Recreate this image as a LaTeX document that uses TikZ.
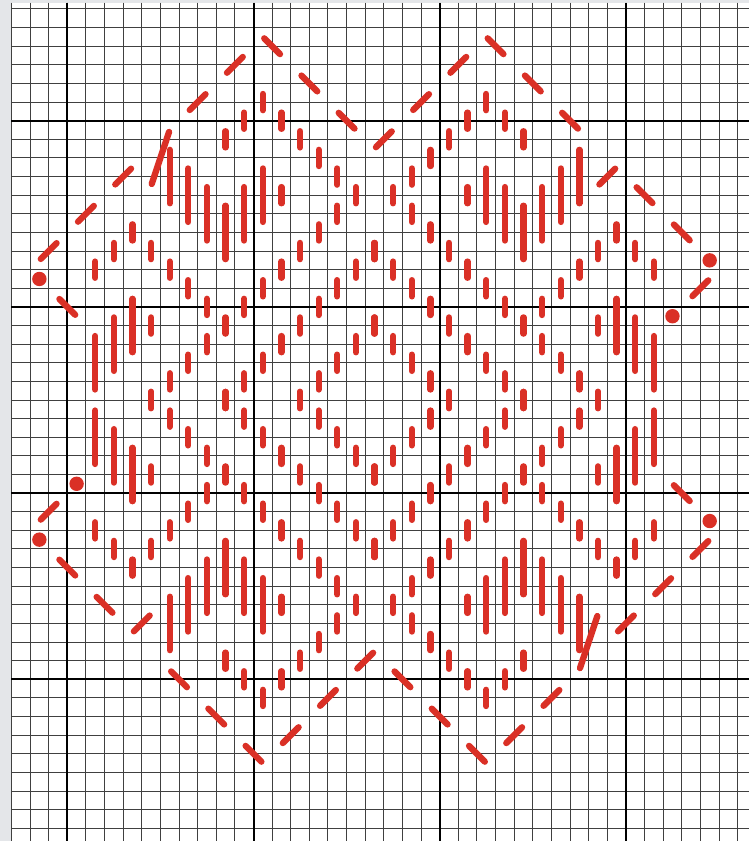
\documentclass[tikz,border=0pt]{standalone}
\definecolor{stitchred}{RGB}{218,48,38}
\definecolor{stripgray}{RGB}{228,230,233}
\newcommand{\cx}[1]{{67.3+18.62*((#1)+0.5)}}
\newcommand{\cy}[1]{{120.7+18.62*((#1)+0.5)}}
\tikzset{
  gridthin/.style={draw=black!75, line width=1pt},
  gridthick/.style={draw=black, line width=2pt},
  vstitch/.style={draw=stitchred, line width=6.3pt, line cap=round, shorten <=1.2pt, shorten >=1.2pt},
  dstitch/.style={draw=stitchred, line width=6.3pt, line cap=round, shorten <=2pt, shorten >=2pt},
  knot/.style={fill=stitchred}
}
\begin{document}
\begin{tikzpicture}[x=1pt,y=-1pt]
\useasboundingbox (0,0) rectangle (749,841);
\fill[white] (0,0) rectangle (749,841);
\fill[stripgray] (0,0) rectangle (11.4,841);
\fill[stripgray] (0,0) rectangle (749,2.6);
% thin grid
\foreach \i in {-3,...,36} {
  \draw[gridthin] ({67.3+18.62*\i},2.6) -- ({67.3+18.62*\i},841);
}
\foreach \j in {-6,...,38} {
  \draw[gridthin] (11.4,{120.7+18.62*\j}) -- (749,{120.7+18.62*\j});
}
% thick grid
\foreach \i in {0,10,20,30} {
  \draw[gridthick] ({67.3+18.62*\i},2.6) -- ({67.3+18.62*\i},841);
}
\foreach \j in {0,10,20,30} {
  \draw[gridthick] (11.4,{120.7+18.62*\j}) -- (749,{120.7+18.62*\j});
}
% interior vertical stitches (fourfold symmetric)
\foreach \c/\a/\b in {1/7/8, 1/11/14,
  2/6/7, 2/10/13,
  3/5/6, 3/9/12,
  4/6/7, 4/10/11, 4/14/15,
  5/1/4, 5/7/8, 5/13/14,
  6/2/5, 6/8/9, 6/12/13,
  7/3/6, 7/9/10, 7/11/12,
  8/0/1, 8/4/7, 8/10/11, 8/14/15,
  9/-1/0, 9/3/6, 9/9/10, 9/13/14,
  10/-2/-1, 10/2/5, 10/8/9, 10/12/13,
  11/-1/0, 11/3/4, 11/7/8, 11/11/12,
  12/0/1, 12/6/7, 12/10/11, 12/14/15,
  13/1/2, 13/5/6, 13/9/10, 13/13/14,
  14/2/3, 14/4/5, 14/8/9, 14/12/13,
  15/3/4, 15/7/8, 15/11/12,
  16/6/7, 16/10/11} {
  \draw[vstitch] (\cx{\c},\cy{\a}) -- (\cx{\c},\cy{\b});
  \draw[vstitch] (\cx{32-\c},\cy{\a}) -- (\cx{32-\c},\cy{\b});
  \draw[vstitch] (\cx{\c},\cy{29-\b}) -- (\cx{\c},\cy{29-\a});
  \draw[vstitch] (\cx{32-\c},\cy{29-\b}) -- (\cx{32-\c},\cy{29-\a});
}
% border dashes (twofold rotational symmetry)
\foreach \p/\q/\s/\t in {-2/7/-1/6, 0/5/1/4, 2/3/3/2, 4/3/5/0, 6/-1/7/-2,
  8/-3/9/-4, 10/-5/11/-4, 12/-3/13/-2, 14/-1/15/0, 16/1/17/0,
  18/-1/19/-2, 20/-3/21/-4, 22/-5/23/-4, 24/-3/25/-2, 26/-1/27/0,
  28/3/29/2, 30/3/31/4, 32/5/33/6, -1/9/0/10, -2/21/-1/20} {
  \draw[dstitch] (\cx{\p},\cy{\q}) -- (\cx{\s},\cy{\t});
  \draw[dstitch] (\cx{32-\p},\cy{29-\q}) -- (\cx{32-\s},\cy{29-\t});
}
% knots
\foreach \p/\q in {-2/8, 0/19, -2/22} {
  \fill[knot] (\cx{\p},\cy{\q}) circle (7.2pt);
  \fill[knot] (\cx{32-\p},\cy{29-\q}) circle (7.2pt);
}
\end{tikzpicture}
\end{document}
